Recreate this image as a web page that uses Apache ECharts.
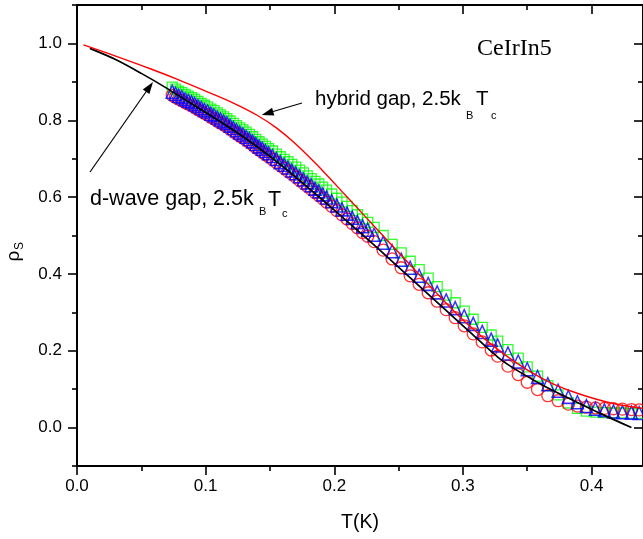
<!DOCTYPE html>
<html>
<head>
<meta charset="utf-8">
<script src="https://cdn.jsdelivr.net/npm/echarts@6/dist/echarts.min.js"></script>
<style>
html,body{margin:0;padding:0;background:#fff;}
#chart{width:643px;height:539px;}
</style>
</head>
<body>
<div id="chart"></div>
<script>
// ---- data ----
const temps = [0.074,0.0765,0.079,0.0815,0.084,0.0865,0.089,0.0915,0.094,0.0965,0.099,0.1015,0.104,0.1065,0.109,0.1115,0.114,0.1165,0.119,0.1215,0.124,0.1265,0.129,0.1315,0.134,0.1365,0.139,0.1415,0.144,0.1465,0.149,
  0.152,0.155,0.158,0.161,0.164,0.167,0.170,0.173,0.176,0.179,0.182,0.185,0.188,0.191,0.194,
  0.198,0.202,0.206,0.210,0.214,0.218,0.222,0.226,
  0.231,0.238,0.245,0.252,0.259,0.266,0.273,0.280,0.287,0.294,0.301,0.308,0.315,0.322,
  0.327,0.335,0.343,0.350,0.358,0.366,0.374,0.382,0.389,0.396,0.403,0.410,0.417,0.424,0.431,0.437,0.443];
const greenSquares = [0.886,0.881,0.876,0.872,0.867,0.863,0.859,0.854,0.849,0.844,0.839,0.835,0.829,0.825,0.819,0.814,0.809,0.804,0.798,0.792,0.786,0.780,0.775,0.769,0.763,0.757,0.750,0.744,0.738,0.732,0.726,
  0.720,0.712,0.705,0.698,0.692,0.685,0.678,0.670,0.663,0.655,0.648,0.641,0.634,0.626,0.618,
  0.608,0.597,0.587,0.576,0.565,0.554,0.543,0.534,
  0.521,0.500,0.477,0.455,0.433,0.411,0.389,0.367,0.345,0.325,0.303,0.282,0.261,0.241,
  0.225,0.203,0.181,0.158,0.134,0.109,0.085,0.064,0.050,0.043,0.040,0.039,0.038,0.038,0.037,0.037,0.037];
const blueTriangles = [0.874,0.869,0.864,0.860,0.855,0.851,0.847,0.842,0.837,0.832,0.827,0.823,0.817,0.813,0.807,0.802,0.797,0.792,0.786,0.780,0.774,0.768,0.763,0.757,0.751,0.745,0.738,0.732,0.726,0.720,0.714,
  0.707,0.699,0.691,0.684,0.677,0.669,0.662,0.654,0.646,0.638,0.631,0.622,0.615,0.607,0.599,
  0.589,0.578,0.568,0.557,0.546,0.535,0.524,0.515,
  0.502,0.481,0.459,0.437,0.416,0.395,0.374,0.352,0.331,0.311,0.290,0.270,0.249,0.229,
  0.214,0.193,0.172,0.152,0.132,0.113,0.096,0.080,0.066,0.056,0.049,0.045,0.042,0.040,0.039,0.038,0.037];
const redCircles = [0.865,0.860,0.855,0.851,0.846,0.842,0.838,0.833,0.828,0.823,0.818,0.814,0.808,0.804,0.798,0.793,0.788,0.783,0.777,0.771,0.765,0.759,0.754,0.748,0.742,0.736,0.729,0.723,0.717,0.711,0.705,
  0.698,0.690,0.682,0.675,0.667,0.660,0.652,0.644,0.636,0.628,0.620,0.612,0.604,0.596,0.587,
  0.576,0.565,0.554,0.543,0.531,0.520,0.508,0.498,
  0.484,0.462,0.439,0.416,0.395,0.373,0.351,0.329,0.307,0.286,0.265,0.244,0.223,0.202,
  0.186,0.160,0.138,0.118,0.099,0.083,0.070,0.061,0.056,0.053,0.051,0.050,0.049,0.048,0.047,0.046,0.046];
const dwaveT   = [0.010,0.030,0.050,0.070,0.090,0.110,0.130,0.150,0.170,0.190,0.210,0.235,0.260,0.285,0.305,0.328,0.345,0.365,0.385,0.408,0.431];
const dwaveRho = [0.987,0.958,0.922,0.883,0.841,0.799,0.755,0.706,0.652,0.595,0.537,0.463,0.387,0.311,0.250,0.181,0.143,0.105,0.072,0.035,0.000];
const hybridT   = [0.005,0.030,0.057,0.080,0.100,0.120,0.140,0.155,0.170,0.190,0.210,0.235,0.260,0.285,0.305,0.328,0.350,0.370,0.390,0.415,0.440];
const hybridRho = [0.996,0.967,0.934,0.904,0.876,0.847,0.813,0.780,0.738,0.672,0.600,0.510,0.420,0.331,0.265,0.201,0.150,0.114,0.088,0.064,0.050];
const xMajorTicks = [0.0,0.1,0.2,0.3,0.4];
const xMinorTicks = [0.05,0.15,0.25,0.35];
const yMajorTicks = [0.0,0.2,0.4,0.6,0.8,1.0];
const yMinorTicks = [-0.1,0.1,0.3,0.5,0.7,0.9,1.1];
const xRange = [0, 0.44];
const yRange = [-0.1, 1.1];

// ---- chart ----
const FONT = 'Liberation Sans';
const chart = echarts.init(document.getElementById('chart'), null, {renderer:'canvas'});
const axLine = {show:true, onZero:false, lineStyle:{color:'#000', width:2}};
const noLine = {show:false, onZero:false};
function xAx(pos, ticks, len, inside, labels, lineShow) {
  return {
    type:'value', min:xRange[0], max:xRange[1], position:pos,
    axisLine: lineShow ? axLine : noLine,
    axisTick:{show:true, customValues:ticks, length:len, inside:inside, lineStyle:{color:'#000', width:1.6}},
    axisLabel: labels ? {show:true, customValues:ticks, formatter:v=>v.toFixed(1), fontFamily:FONT, fontSize:17, color:'#000', margin:12} : {show:false},
    splitLine:{show:false}, minorTick:{show:false}
  };
}
function yAx(pos, ticks, len, inside, labels, lineShow) {
  return {
    type:'value', min:yRange[0], max:yRange[1], position:pos,
    axisLine: lineShow ? axLine : noLine,
    axisTick:{show:true, customValues:ticks, length:len, inside:inside, lineStyle:{color:'#000', width:1.6}},
    axisLabel: labels ? {show:true, customValues:ticks, formatter:v=>v.toFixed(1), fontFamily:FONT, fontSize:17, color:'#000', margin:15} : {show:false},
    splitLine:{show:false}, minorTick:{show:false}
  };
}
const xAxes = [
  xAx('bottom', xMajorTicks, 9, false, true, true),
  xAx('bottom', xMinorTicks, 5, false, false, false),
  xAx('top', xMajorTicks, 9, true, false, true),
  xAx('top', xMinorTicks, 5, true, false, false)
];
xAxes[0].name = 'T(K)';
xAxes[0].nameLocation = 'middle';
xAxes[0].nameGap = 47;
xAxes[0].nameTextStyle = {fontFamily:FONT, fontSize:19.5, color:'#000'};
const yAxes = [
  yAx('left', yMajorTicks, 9, false, true, true),
  yAx('left', yMinorTicks, 5, false, false, false),
  yAx('right', yMajorTicks, 9, true, false, true),
  yAx('right', yMinorTicks, 5, true, false, false)
];

const pairs = (xs, ys) => xs.map((x, i) => [x, ys[i]]);

const option = {
  backgroundColor:'#fff',
  animation:false,
  grid:{left:77, top:5, width:567.6, height:461, containLabel:false},
  xAxis:xAxes,
  yAxis:yAxes,
  series:[
    {type:'scatter', name:'green', symbol:'rect', symbolSize:10, data:pairs(temps, greenSquares),
      itemStyle:{color:'rgba(0,0,0,0)', borderColor:'#00ff00', borderWidth:1.3}, z:2},
    {type:'scatter', name:'red', symbol:'circle', symbolSize:12, data:pairs(temps, redCircles),
      itemStyle:{color:'rgba(0,0,0,0)', borderColor:'#ff0000', borderWidth:1.3}, z:3},
    {type:'scatter', name:'blue', symbol:'triangle', symbolSize:[12,13], data:pairs(temps, blueTriangles),
      itemStyle:{color:'rgba(0,0,0,0)', borderColor:'#0000ff', borderWidth:1.5}, z:4},
    {type:'line', name:'d-wave', data:pairs(dwaveT, dwaveRho), showSymbol:false, smooth:0.3,
      lineStyle:{color:'#000', width:1.7}, z:5},
    {type:'line', name:'hybrid', data:pairs(hybridT, hybridRho), showSymbol:false, smooth:0.4,
      lineStyle:{color:'#ff0000', width:1.4}, z:5}
  ],
  graphic:[
    {type:'text', left:477, top:37, style:{text:'CeIrIn5', font:'24px "Liberation Serif"', fill:'#000'}, z:10},
    // hybrid label
    {type:'text', x:315, y:99, style:{text:'hybrid gap, 2.5k', font:'20.5px "Liberation Sans"', fill:'#000', verticalAlign:'middle'}, z:10},
    {type:'text', x:466, y:116, style:{text:'B', font:'11px "Liberation Sans"', fill:'#000', verticalAlign:'middle'}, z:10},
    {type:'text', x:476, y:99, style:{text:'T', font:'20.5px "Liberation Sans"', fill:'#000', verticalAlign:'middle'}, z:10},
    {type:'text', x:491, y:116, style:{text:'c', font:'11px "Liberation Sans"', fill:'#000', verticalAlign:'middle'}, z:10},
    // d-wave label
    {type:'text', x:90, y:199, style:{text:'d-wave gap, 2.5k', font:'21.5px "Liberation Sans"', fill:'#000', verticalAlign:'middle'}, z:10},
    {type:'text', x:259, y:212, style:{text:'B', font:'11px "Liberation Sans"', fill:'#000', verticalAlign:'middle'}, z:10},
    {type:'text', x:268, y:200, style:{text:'T', font:'21.5px "Liberation Sans"', fill:'#000', verticalAlign:'middle'}, z:10},
    {type:'text', x:282, y:214, style:{text:'c', font:'11px "Liberation Sans"', fill:'#000', verticalAlign:'middle'}, z:10},
    // arrows
    {type:'line', shape:{x1:90, y1:172, x2:148, y2:89}, style:{stroke:'#000', lineWidth:1.2}, z:10},
    {type:'polygon', shape:{points:[[153,82],[149.4,94.1],[142.8,89.5]]}, style:{fill:'#000'}, z:10},
    {type:'line', shape:{x1:302, y1:103, x2:268, y2:113}, style:{stroke:'#000', lineWidth:1.2}, z:10},
    {type:'polygon', shape:{points:[[261.7,115],[274.3,115.4],[272.1,107.8]]}, style:{fill:'#000'}, z:10},
    // y axis title rho_S
    {type:'text', x:14, y:256, rotation:Math.PI/2, style:{text:'ρ', font:'19px "Liberation Sans"', fill:'#000', align:'center', verticalAlign:'middle'}, z:10},
    {type:'text', x:20, y:246, rotation:Math.PI/2, style:{text:'S', font:'12px "Liberation Sans"', fill:'#000', align:'center', verticalAlign:'middle'}, z:10}
  ]
};
chart.setOption(option);
</script>
</body>
</html>
